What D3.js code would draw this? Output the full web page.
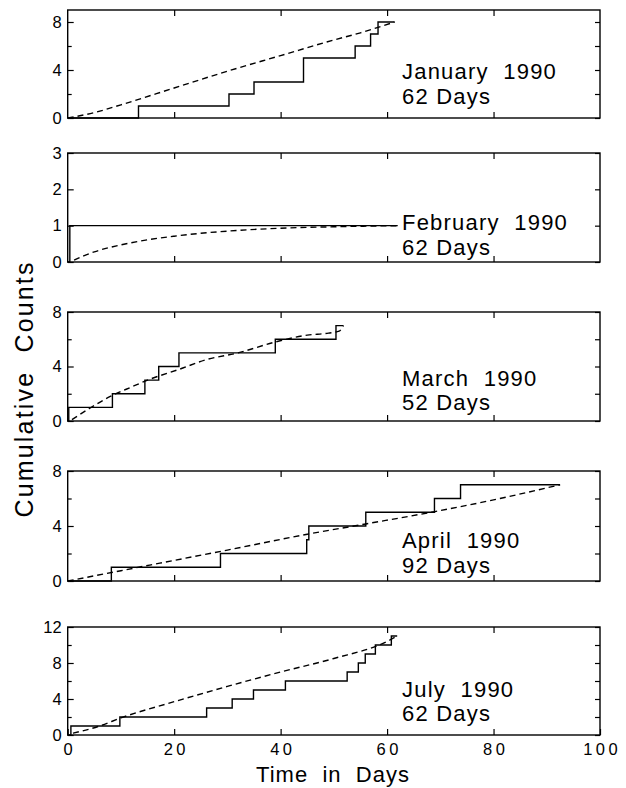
<!DOCTYPE html>
<html lang="en">
<head>
<meta charset="utf-8">
<title>Cumulative Counts</title>
<style>
body{margin:0;background:#fff;}
text{font-family:"Liberation Sans", Arial, Helvetica, sans-serif; fill:#000;}
.tick line{stroke:#000; stroke-width:1.2;}
.domain{display:none;}
</style>
</head>
<body>
<script src="https://cdn.jsdelivr.net/npm/d3@7/dist/d3.min.js"></script>
<script>

// time axis (days)
var dayTicks = [0, 20, 40, 60, 80, 100];
var innerDayTicks = [20, 40, 60, 80];

// January 1990 : event times and cumulative counts, and the fitted curve
var janT = [0, 13.3, 30.3, 35.0, 44.3, 54.0, 56.9, 58.3, 61.4];
var janN = [0, 1, 2, 3, 5, 6, 7, 8, 8];
var janFitT = [0, 5, 10, 20, 30, 40, 50, 55, 61.4];
var janFitN = [0, 0.45, 1.1, 2.5, 3.9, 5.2, 6.5, 7.1, 8];

// February 1990
var febT = [0, 0.4, 62];
var febN = [0, 1, 1];
var febFitT = [1.2, 3, 5, 10, 15, 20, 25, 30, 40, 50, 62];
var febFitN = [0.05, 0.17, 0.28, 0.47, 0.61, 0.71, 0.79, 0.85, 0.93, 0.97, 1];

// March 1990
var marT = [0, 0.2, 8.4, 14.5, 17.1, 20.9, 39.0, 50.4, 51.8];
var marN = [0, 1, 2, 3, 4, 5, 6, 7, 7];
var marFitT = [0.8, 4, 8, 12, 15, 21, 26, 32, 39, 45, 49, 51, 51.8];
var marFitN = [0.1, 0.9, 1.8, 2.5, 3.0, 3.8, 4.5, 5.0, 5.8, 6.3, 6.45, 6.6, 7];

// April 1990
var aprT = [0, 8.2, 28.7, 44.9, 45.3, 56.0, 68.9, 73.8, 92.5];
var aprN = [0, 1, 2, 3, 4, 5, 6, 7, 7];
var aprFitT = [0, 10, 20, 30, 45, 56, 69, 80, 92.5];
var aprFitN = [0, 0.75, 1.5, 2.25, 3.4, 4.15, 5.05, 5.9, 7];

// July 1990
var julT = [0, 0.6, 9.8, 26.1, 30.9, 34.9, 40.9, 52.5, 54.6, 55.9, 57.8, 60.8, 61.9];
var julN = [0, 1, 2, 3, 4, 5, 6, 7, 8, 9, 10, 11, 11];
var julFitT = [1, 6, 10, 20, 30, 40, 50, 60, 61.9];
var julFitN = [0.2, 1.0, 1.9, 3.7, 5.4, 7.0, 8.5, 10.4, 11];

// panel labels
var monthLabels = ["January  1990", "February  1990", "March  1990", "April  1990", "July  1990"];
var dayLabels = ["62 Days", "62 Days", "52 Days", "92 Days", "62 Days"];

// y range and ticks per panel
var yMax = [9, 3, 8, 8, 12];
var yMajor = [[0, 4, 8], [0, 1, 2, 3], [0, 4, 8], [0, 4, 8], [0, 4, 8, 12]];
var yMinor = [[2, 6], [], [2, 6], [2, 6], [2, 6, 10]];

var w = 626;
var h = 788;
var left = 67.7;
var right = 600;

// layout of the five stacked panels
var tops = [10, 153, 312, 471, 627];
var bottoms = [118, 262, 421, 581, 735];
var labelY = [[79, 104], [230, 255], [386, 410], [548, 573], [697, 721]];

function zip(a, b){ return a.map(function(v, i){ return [v, b[i]]; }); }

var series = [
	{steps: zip(janT, janN), fit: zip(janFitT, janFitN)},
	{steps: zip(febT, febN), fit: zip(febFitT, febFitN)},
	{steps: zip(marT, marN), fit: zip(marFitT, marFitN)},
	{steps: zip(aprT, aprN), fit: zip(aprFitT, aprFitN)},
	{steps: zip(julT, julN), fit: zip(julFitT, julFitN)}
];

var svg = d3.select("body").append("svg").attr("width", w).attr("height", h);

var x = d3.scaleLinear().domain([0, 100]).range([left, right]);

series.forEach(function(s, i){
	var y = d3.scaleLinear().domain([0, yMax[i]]).range([bottoms[i], tops[i]]);
	var g = svg.append("g");
	var last = (i == series.length - 1);

	// left ticks with labels, minor ticks without
	g.append("g").attr("transform", "translate(" + left + ",0)")
		.call(d3.axisLeft(y).tickValues(yMajor[i]).tickSize(-6).tickPadding(6).tickFormat(d3.format("d")))
		.selectAll("text").attr("font-size", "16.5px").attr("font-family", null);
	g.append("g").attr("transform", "translate(" + left + ",0)")
		.call(d3.axisLeft(y).tickValues(yMinor[i]).tickSize(-4).tickFormat(""));

	// right ticks
	g.append("g").attr("transform", "translate(" + right + ",0)")
		.call(d3.axisRight(y).tickValues(yMajor[i].concat(yMinor[i])).tickSize(-5).tickFormat(""));

	// top ticks
	g.append("g").attr("transform", "translate(0," + tops[i] + ")")
		.call(d3.axisTop(x).tickValues(innerDayTicks).tickSize(-6).tickFormat(""));

	// bottom ticks, labels only on the last panel
	var bx = g.append("g").attr("transform", "translate(0," + bottoms[i] + ")");
	if(last){
		bx.call(d3.axisBottom(x).tickValues(dayTicks).tickSize(-6).tickPadding(8))
			.selectAll("text")
			.attr("font-size", "16.5px").attr("font-family", null)
			.attr("letter-spacing", "3.5px").attr("dx", "1.7px");
	}else{
		bx.call(d3.axisBottom(x).tickValues(innerDayTicks).tickSize(-6).tickFormat(""));
	}

	// frame
	g.append("rect")
		.attr("x", left).attr("y", tops[i])
		.attr("width", right - left).attr("height", bottoms[i] - tops[i])
		.attr("fill", "none").attr("stroke", "#000").attr("stroke-width", 1.4);

	// observed cumulative counts
	var step = d3.line().x(function(d){ return x(d[0]); }).y(function(d){ return y(d[1]); }).curve(d3.curveStepAfter);
	g.append("path").attr("d", step(s.steps))
		.attr("fill", "none").attr("stroke", "#000").attr("stroke-width", 1.4);

	// fitted curve
	var fit = d3.line().x(function(d){ return x(d[0]); }).y(function(d){ return y(d[1]); }).curve(d3.curveMonotoneX);
	g.append("path").attr("d", fit(s.fit))
		.attr("fill", "none").attr("stroke", "#000").attr("stroke-width", 1.4)
		.attr("stroke-dasharray", "6,4");

	// month label
	g.append("text").attr("x", 402).attr("y", labelY[i][0])
		.attr("font-size", "22px").attr("letter-spacing", "1.2px")
		.style("white-space", "pre")
		.text(monthLabels[i]);
	g.append("text").attr("x", 402).attr("y", labelY[i][1])
		.attr("font-size", "22px").attr("letter-spacing", "1.2px")
		.style("white-space", "pre")
		.text(dayLabels[i]);
});

// axis titles
svg.append("text")
	.attr("x", 333).attr("y", 782)
	.attr("text-anchor", "middle")
	.attr("font-size", "22px").attr("letter-spacing", "1px")
	.style("white-space", "pre")
	.text("Time  in  Days");

svg.append("text")
	.attr("transform", "translate(33,390) rotate(-90)")
	.attr("text-anchor", "middle")
	.attr("font-size", "25px")
	.attr("textLength", 255)
	.style("white-space", "pre")
	.text("Cumulative  Counts");

</script>
</body>
</html>
